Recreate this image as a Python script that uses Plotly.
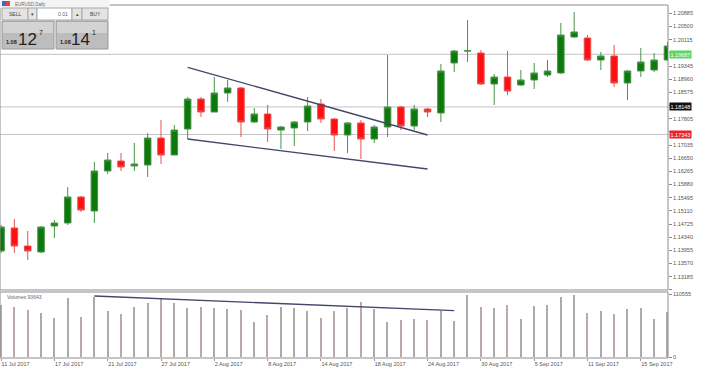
import plotly.graph_objects as go

# ---------------- data ----------------
tick_idx = [0, 4, 8, 12, 16, 20, 24, 28, 32, 36, 40, 44, 48]
tick_labels = ["11 Jul 2017", "17 Jul 2017", "21 Jul 2017", "27 Jul 2017", "2 Aug 2017",
               "8 Aug 2017", "14 Aug 2017", "18 Aug 2017", "24 Aug 2017", "30 Aug 2017",
               "5 Sep 2017", "11 Sep 2017", "15 Sep 2017"]

opens = [1.13937, 1.14610, 1.14083, 1.13908, 1.14668, 1.14756, 1.15516, 1.15107, 1.16276, 1.16568,
         1.16422, 1.16451, 1.17240, 1.16743, 1.17503, 1.18380, 1.18000, 1.18556, 1.18702, 1.17708,
         1.17942, 1.17474, 1.17533, 1.17708, 1.18234, 1.17796, 1.17328, 1.17679, 1.17211, 1.17562,
         1.18146, 1.17591, 1.18088, 1.17971, 1.19433, 1.19783, 1.19725, 1.18819, 1.19023, 1.18789,
         1.18936, 1.19082, 1.19140, 1.20193, 1.20163, 1.19520, 1.19637, 1.18848, 1.19199, 1.19228,
         1.19520]
highs = [1.14697, 1.14873, 1.14522, 1.14668, 1.14843, 1.15808, 1.15545, 1.16539, 1.16802, 1.16802,
         1.17094, 1.17386, 1.17766, 1.17620, 1.18439, 1.18439, 1.19023, 1.18936, 1.18731, 1.18117,
         1.18205, 1.17591, 1.17737, 1.18439, 1.18380, 1.17825, 1.17708, 1.17766, 1.17620, 1.19666,
         1.18176, 1.18205, 1.18117, 1.19403, 1.19813, 1.20689, 1.19813, 1.19111, 1.19783, 1.19228,
         1.19433, 1.19520, 1.20602, 1.20923, 1.20251, 1.19754, 1.19959, 1.19230, 1.19871, 1.19725,
         1.20046]
lows = [1.13879, 1.13879, 1.13674, 1.13879, 1.14317, 1.14697, 1.15077, 1.14756, 1.16188, 1.16276,
        1.16276, 1.16100, 1.16480, 1.16743, 1.17211, 1.17854, 1.18000, 1.18293, 1.17270, 1.17679,
        1.17123, 1.16919, 1.17006, 1.17445, 1.17679, 1.16860, 1.16802, 1.16626, 1.17094, 1.17270,
        1.17474, 1.17474, 1.17854, 1.17708, 1.19169, 1.19462, 1.18790, 1.18205, 1.18497, 1.18760,
        1.18673, 1.19023, 1.19111, 1.20163, 1.19491, 1.19228, 1.18731, 1.18351, 1.19023, 1.19169,
        1.19491]
closes = [1.14639, 1.14083, 1.13937, 1.14639, 1.14756, 1.15516, 1.15136, 1.16276, 1.16597, 1.16393,
          1.16480, 1.17240, 1.16743, 1.17474, 1.18380, 1.18000, 1.18556, 1.18702, 1.17708, 1.17942,
          1.17503, 1.17562, 1.17708, 1.18176, 1.17796, 1.17328, 1.17679, 1.17211, 1.17562, 1.18146,
          1.17591, 1.18088, 1.18000, 1.19199, 1.19783, 1.19790, 1.18819, 1.19023, 1.18614, 1.18936,
          1.19140, 1.19199, 1.20251, 1.20339, 1.19520, 1.19637, 1.18848, 1.19199, 1.19462, 1.19520,
          1.19929]
volumes = [91690, 88690, 82870, 78110, 68240, 103500, 71060, 105790, 81640, 75290,
           87630, 94680, 102270, 94680, 86930, 88690, 85870, 84630, 82870, 62240,
           74050, 88690, 85870, 81110, 68240, 81110, 85870, 97510, 84630, 61180,
           65240, 67000, 65240, 81110, 63480, 109320, 87630, 86930, 91690, 67000,
           90450, 91690, 106320, 109320, 77050, 81110, 75290, 84630, 86930, 66470,
           79870]

price_ticks = [1.12800, 1.13185, 1.13570, 1.13955, 1.14340, 1.14725, 1.15110, 1.15495, 1.15880,
               1.16265, 1.16650, 1.17035, 1.17420, 1.17805, 1.18190, 1.18575, 1.18960, 1.19345,
               1.19730, 1.20115, 1.20500, 1.20885]
# tick labels covered by other labels in the reference
hidden_price_ticks = [1.12800, 1.17420, 1.18190, 1.19730]
volume_ticks = [0, 110555]

# horizontal price levels (value, label background)
level_values = [1.19687, 1.18148, 1.17343]
level_labels = ["1.19687", "1.18148", "1.17343"]
level_colors = ["#5fd35f", "#111111", "#e8232a"]

# trend lines (bar index, value)
upper_trend_x = [14, 32]
upper_trend_y = [1.19307, 1.17328]
lower_trend_x = [14, 32]
lower_trend_y = [1.17211, 1.16334]
vol_trend_x = [7, 34]
vol_trend_y = [107550, 81640]

idx = list(range(len(opens)))

# ---------------- layout geometry ----------------
W_FIG, H_FIG = 702, 372
ML, MR, MT, MB = 0, 34, 5, 14
PW, PH = W_FIG - ML - MR, H_FIG - MT - MB


def xp(px):
    return (px - ML) / PW


def yp(py):
    return (H_FIG - MB - py) / PH


FONT = "Liberation Sans, Arial, sans-serif"

fig = go.Figure()

fig.add_trace(go.Candlestick(
    x=idx, open=opens, high=highs, low=lows, close=closes,
    increasing=dict(line=dict(color="#4a944a", width=1), fillcolor="#0b7a0b"),
    decreasing=dict(line=dict(color="#e85050", width=1), fillcolor="#ff1010"),
    whiskerwidth=0, xaxis="x", yaxis="y", showlegend=False, name="EURUSD"))

vol_colors = ["#ababab" if c >= o else "#bcaaaa" for o, c in zip(opens, closes)]
fig.add_trace(go.Bar(
    x=idx, y=volumes, width=0.1, marker=dict(color=vol_colors, line=dict(width=0)),
    xaxis="x", yaxis="y2", showlegend=False, name="Volumes"))

shapes = []
# panel frames
shapes.append(dict(type="rect", xref="paper", yref="y domain", x0=0, x1=1, y0=0, y1=1,
                   line=dict(color="#8c8c8c", width=1), layer="above"))
shapes.append(dict(type="rect", xref="paper", yref="y2 domain", x0=0, x1=1, y0=0, y1=1,
                   line=dict(color="#8c8c8c", width=1), layer="above"))
# price level lines
for v in level_values:
    shapes.append(dict(type="line", xref="paper", yref="y", x0=0, x1=1, y0=v, y1=v,
                       line=dict(color="#c4c4c4", width=1), layer="below"))
# trend lines
trend_col = "#44466a"
shapes.append(dict(type="line", xref="x", yref="y", x0=upper_trend_x[0], x1=upper_trend_x[1],
                   y0=upper_trend_y[0], y1=upper_trend_y[1], line=dict(color=trend_col, width=1.3)))
shapes.append(dict(type="line", xref="x", yref="y", x0=lower_trend_x[0], x1=lower_trend_x[1],
                   y0=lower_trend_y[0], y1=lower_trend_y[1], line=dict(color=trend_col, width=1.3)))
shapes.append(dict(type="line", xref="x", yref="y2", x0=vol_trend_x[0], x1=vol_trend_x[1],
                   y0=vol_trend_y[0], y1=vol_trend_y[1], line=dict(color=trend_col, width=1.3)))

annotations = []
for v, t, c in zip(level_values, level_labels, level_colors):
    annotations.append(dict(xref="paper", yref="y", x=1, y=v, xanchor="left", yanchor="middle",
                            xshift=1, text=t, showarrow=False, bgcolor=c, borderpad=0.5,
                            font=dict(family=FONT, size=5.5, color="white")))

annotations.append(dict(xref="paper", yref="paper", x=xp(5), y=yp(297), xanchor="left",
                        yanchor="middle", text="Volumes 93643", showarrow=False,
                        font=dict(family=FONT, size=5, color="#666666")))


# ---------------- one-click trading widget ----------------
def rect(x0, y0, x1, y1, fill, line="#a8a8a8", lw=1):
    shapes.append(dict(type="rect", xref="paper", yref="paper", x0=xp(x0), x1=xp(x1),
                       y0=yp(y1), y1=yp(y0), fillcolor=fill,
                       line=dict(color=line, width=lw), layer="above"))


def text(x, y, s, size, color="#333333", anchor="center", bold=False):
    annotations.append(dict(xref="paper", yref="paper", x=xp(x), y=yp(y), xanchor=anchor,
                            yanchor="middle", text=("<b>%s</b>" % s) if bold else s,
                            showarrow=False, font=dict(family=FONT, size=size, color=color)))


rect(0, 0, 110, 8, "#f4f4f4", "#f4f4f4", 0)
rect(2, 1, 6, 6, "#4a63c8", "#4a63c8", 0)
rect(6, 1, 10, 6, "#d84848", "#d84848", 0)
text(13, 4, "EURUSD,Daily", 4.5, "#666666", "left")

rect(2, 8, 28, 20, "#e4e4e4")
text(15, 14, "SELL", 5, "#444444")
rect(28, 8, 37, 20, "#e4e4e4")
text(32.5, 14, "▾", 5, "#444444")
rect(37, 8, 72, 20, "#ffffff")
text(70, 14, "0.01", 5, "#666666", "right")
rect(72, 8, 82, 20, "#e4e4e4")
text(77, 14, "▴", 5, "#444444")
rect(82, 8, 108, 20, "#e4e4e4")
text(95, 14, "BUY", 5, "#444444")

for bx in (2, 56):
    rect(bx, 21, bx + 52, 49, "#bdbdbd", "#9a9a9a")
    rect(bx + 1, 22, bx + 51, 33, "#d3d3d3", "#d3d3d3", 0)

text(4, 42, "1.08", 5.5, "#222222", "left", True)
text(16, 39, "12", 17, "#222222", "left")
text(37, 32, "7", 7, "#222222", "left")
text(58, 42, "1.08", 5.5, "#222222", "left", True)
text(69, 39, "14", 17, "#222222", "left")
text(90, 32, "1", 7, "#222222", "left")

# ---------------- axes ----------------
main_domain = [yp(290), yp(5)]
vol_domain = [yp(358), yp(292)]

fig.update_layout(
    width=W_FIG, height=H_FIG,
    margin=dict(l=ML, r=MR, t=MT, b=MB, pad=0),
    paper_bgcolor="white", plot_bgcolor="white",
    showlegend=False, bargap=0,
    font=dict(family=FONT, size=5.5, color="#555555"),
    xaxis=dict(domain=[0, 1], anchor="y2", range=[-0.08, 50.04],
               rangeslider=dict(visible=False), showgrid=False, zeroline=False,
               tickmode="array", tickvals=tick_idx, ticktext=tick_labels,
               ticks="outside", ticklen=2, tickcolor="#999999",
               ticklabelposition="outside right",
               tickfont=dict(family=FONT, size=5.5, color="#555555"),
               showline=False, fixedrange=True),
    yaxis=dict(domain=main_domain, anchor="x", side="right", range=[1.12797, 1.21128],
               showgrid=False, zeroline=False, tickmode="array", tickvals=price_ticks,
               ticktext=["" if v in hidden_price_ticks else "%.5f" % v for v in price_ticks],
               ticks="outside", ticklen=3, tickcolor="#888888",
               tickfont=dict(family=FONT, size=5.5, color="#555555"), showline=False),
    yaxis2=dict(domain=vol_domain, anchor="x", side="right", range=[-1763, 114600],
                showgrid=False, zeroline=False, tickmode="array", tickvals=volume_ticks,
                ticktext=[str(v) for v in volume_ticks],
                ticks="outside", ticklen=3, tickcolor="#888888",
                tickfont=dict(family=FONT, size=5.5, color="#555555"), showline=False),
    shapes=shapes, annotations=annotations,
)

fig.write_html("out.html")
